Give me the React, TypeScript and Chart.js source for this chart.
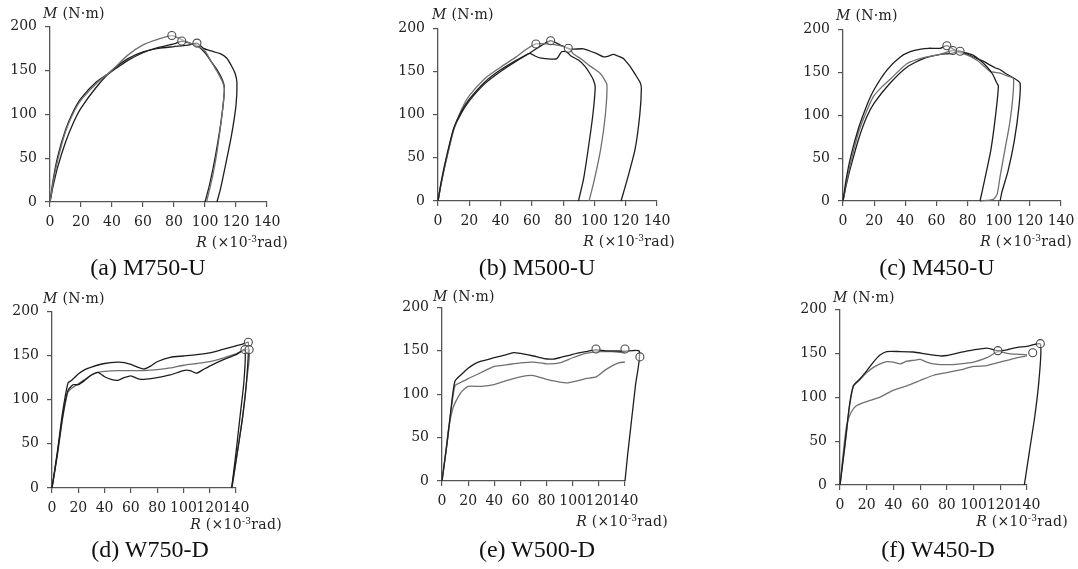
import React, { useEffect, useRef } from 'react';
import { Chart, registerables } from 'chart.js';
Chart.register(...registerables);

type P = [number, number];

const X_TICKS = [0, 20, 40, 60, 80, 100, 120, 140];
const Y_TICKS = [0, 50, 100, 150, 200];

// (a) M750-U
const M750U_1: P[] = [[0,0],[2,22],[5,48],[10,80],[15,101],[20,116],[30,135],[40,150],[50,167],[60,179],[70,185.5],[78.6,189.6],[85,185],[90,181],[95,178],[100,172],[104,160],[108,148],[111,138],[112.5,128],[111,100],[108,60],[105,30],[101,0]];
const M750U_2: P[] = [[0,0],[2,25],[5,52],[10,82],[15,103],[20,118],[30,137],[40,149],[50,161],[60,170],[70,176],[80,180],[85,183.3],[90,181],[95,178],[100,170],[104,160],[108,150],[111,140],[112.5,130],[111,100],[107,55],[103,20],[100,0]];
const M750U_3: P[] = [[0,0],[2,18],[5,40],[10,68],[15,90],[20,107],[30,131],[40,150],[50,163],[60,171],[70,175],[80,177],[90,179],[94.8,181],[99,175],[104,172],[109.8,169],[114,164],[117.4,154],[119.5,146],[120.6,136],[120,110],[117,75],[113,40],[110,15],[107.7,0]];
const M750U_PEAKS: P[] = [[78.6,189.6],[85,183.3],[94.8,181]];

// (b) M500-U
const M500U_1: P[] = [[0,0],[2,22],[5,48],[10,84],[15,104],[20,118],[30,138],[40,152],[50,163],[55,168],[58.8,171],[62,168],[66,165.5],[72,164.5],[76,165],[79,173],[82,173],[85,168],[90,163],[94,156],[97,148],[99.4,140],[100.5,132],[99,100],[96,60],[93,25],[89.8,0]];
const M500U_2: P[] = [[0,0],[2,20],[5,45],[10,82],[15,106],[20,122],[30,142],[40,155],[50,167],[55,174],[62.6,182],[70,182],[78,180],[84,176],[86.5,170.7],[92,164],[96,158],[100,153],[103.6,148],[106,142],[108,135],[107,100],[104,60],[100,25],[96.6,0]];
const M500U_3: P[] = [[0,0],[2,20],[5,46],[10,83],[15,102],[20,116],[30,136],[40,150],[50,162],[60,173],[66,180],[72,185.7],[78,181],[84.5,176],[93,176.3],[101.5,170.7],[105.8,167],[109,168],[112,169.9],[115,168],[118.6,165],[121,160],[122.9,155.7],[126,147],[129.3,137],[130,130],[129,100],[126,60],[121,25],[117,0]];
const M500U_PEAKS: P[] = [[62.6,182],[72,185.7],[83.3,177]];

// (c) M450-U
const M450U_1: P[] = [[0,0],[2,25],[5,52],[10,85],[15.4,112],[20,130],[28.2,152.6],[36.8,167.8],[43.2,174],[50,177],[55,178],[62.4,178],[66.7,181],[72,176],[78,173],[83.8,169.7],[88,164],[92.4,156.5],[96,148],[98.8,137.5],[99.8,134],[98,100],[95,60],[91,25],[88,0]];
const M450U_2: P[] = [[0,0],[2,20],[5,45],[10,80],[15,104],[19.6,122],[25,133],[30.3,142],[41,160],[51.7,167],[62.4,171],[70.5,175.4],[75,173],[80,170],[86,164],[90,158],[94.5,151],[100.9,148.9],[105,146],[109.4,143],[109,120],[107,90],[104,60],[101,30],[99,8],[96.6,2],[88,0]];
const M450U_3: P[] = [[0,0],[2,18],[5,40],[10,72],[15,97],[20,114],[30.3,137.5],[41,156],[51.7,166],[62.4,171],[70,172],[75.2,174.6],[80,171],[86,166],[90,163],[94.5,158.3],[98,155],[101,153],[105,148],[109,144],[113.7,137.5],[113,110],[110,70],[106,35],[102,10],[100.9,0]];
const M450U_PEAKS: P[] = [[66.7,181],[70.5,175.4],[75.2,174.6]];

// (d) W750-D
const W750D_1: P[] = [[0,0],[4,40],[8,85],[12.2,119],[15,122],[20,129],[25,134],[30,137],[40,141],[50,142.5],[55,142],[60,140],[65,137],[70,134.7],[75,138],[80,143],[90,148],[100,149.5],[110,151],[120,153],[130,157],[140,161],[145,163],[149.4,165],[148,120],[145,80],[141,40],[136.7,0]];
const W750D_2: P[] = [[0,0],[4,38],[8,80],[12,110],[16,117],[20,117],[25,122],[30,128],[35,131],[40,126],[45,123],[50,122],[55,125],[60,127],[65,124],[70,123],[80,125],[90,128],[100,133],[105,133],[110,130],[115,134],[120,138],[130,145],[140,151],[146.8,156.7],[146,120],[143,80],[140,40],[136.7,0]];
const W750D_3: P[] = [[0,0],[4,36],[8,78],[12,108],[15,113],[20,118],[25,123],[30,128],[35,131],[40,132],[50,133],[60,133],[70,133],[80,134],[90,136],[100,139],[110,141],[120,143],[130,147],[140,152],[150,156.7],[148,120],[145,80],[141,40],[137,0]];
const W750D_PEAKS: P[] = [[149.4,165],[146.8,156.7],[150,156.7]];

// (e) W500-D
const W500D_1: P[] = [[0,0],[4,45],[7,85],[9.9,115],[15,123],[20,130],[25,135],[30,138],[40,142],[50,146],[55,148],[60,147],[70,144],[78,141],[85,140.5],[90,142],[100,146],[110,149],[117.8,151],[125,150],[130,150],[140,149.5],[151,149.5],[148,110],[145,70],[142,30],[140,0]];
const W500D_2: P[] = [[0,0],[4,45],[7,82],[10,110],[15,114],[20,118],[30,125],[40,132],[50,134],[60,136],[70,137],[80,135],[90,136],[100,142],[110,147],[120,149],[130,149],[140,147.5],[145,146],[151.4,143]];
const W500D_3: P[] = [[0,0],[3,35],[5,60],[8,82],[10,90],[15,103],[20,109],[30,109],[40,111],[50,116],[60,120],[70,121.5],[80,117],[90,114],[95,113],[105,116],[110,118],[118,120],[125,128],[135,136],[140,137],[145,138],[151,143]];
const W500D_PEAKS: P[] = [[117.8,152],[140,152],[151.4,143]];

// (f) W450-D
const W450D_1: P[] = [[0,0],[4,50],[7,90],[10,113],[15,121],[20,130],[25,140],[30,148],[35,152],[45,152],[55,151.5],[65,149],[75,147],[80,147.5],[90,151],[100,154],[110,156],[118,153],[125,154],[130,156],[140,158],[150,160.5],[149,120],[146,80],[142,40],[138,0]];
const W450D_2: P[] = [[0,0],[4,48],[7,88],[10,112],[15,120],[20,128],[25,134],[30,138],[35,140.5],[40,140],[45,138],[50,141],[55,142],[60,143],[65,140],[70,138],[80,137],[90,138],[100,140],[110,145],[118.2,152],[125,150],[130,149],[140,148.5],[144.3,150],[149,148]];
const W450D_3: P[] = [[0,0],[3,45],[5,68],[8,82],[12,90],[20,95],[30,100],[40,108],[50,113],[55,116],[60,119],[70,125],[80,128],[90,131],[100,135],[110,136],[120,140],[130,144],[140,147],[149,148]];
const W450D_PEAKS: P[] = [[118.2,153],[144.3,150.7],[150,161]];

const BLACK = '#1e1e1e';
const GRAY = '#707070';
const AXIS = '#555555';
const TICK_FONT = "'DejaVu Serif', serif";
const CAP_FONT = "'Liberation Serif', 'Times New Roman', serif";

interface PanelCfg {
  caption: string;
  series: P[][];
  colors: string[];
  peaks: P[];
  L: number; R: number; T: number; B: number;
  mX: number; mBase: number;
  rRight: number; rBase: number;
  capCenter: number; capBase: number;
}

const PANELS: PanelCfg[] = [
  { caption: '(a) M750-U', series: [M750U_1, M750U_2, M750U_3], colors: [GRAY, BLACK, BLACK], peaks: M750U_PEAKS,
    L: 50, R: 267, T: 22, B: 202, mX: 43, mBase: 18, rRight: 288, rBase: 247, capCenter: 148, capBase: 275 },
  { caption: '(b) M500-U', series: [M500U_1, M500U_2, M500U_3], colors: [BLACK, GRAY, BLACK], peaks: M500U_PEAKS,
    L: 438, R: 657, T: 24, B: 201, mX: 432, mBase: 19, rRight: 675, rBase: 246, capCenter: 537, capBase: 275 },
  { caption: '(c) M450-U', series: [M450U_1, M450U_2, M450U_3], colors: [BLACK, GRAY, BLACK], peaks: M450U_PEAKS,
    L: 843, R: 1061, T: 25, B: 201, mX: 836, mBase: 20, rRight: 1072, rBase: 246, capCenter: 937, capBase: 275 },
  { caption: '(d) W750-D', series: [W750D_1, W750D_2, W750D_3], colors: [BLACK, BLACK, GRAY], peaks: W750D_PEAKS,
    L: 52, R: 236, T: 307, B: 488, mX: 43, mBase: 303, rRight: 282, rBase: 529, capCenter: 150, capBase: 557 },
  { caption: '(e) W500-D', series: [W500D_1, W500D_2, W500D_3], colors: [BLACK, GRAY, GRAY], peaks: W500D_PEAKS,
    L: 442, R: 625, T: 303, B: 481, mX: 433, mBase: 301, rRight: 668, rBase: 526, capCenter: 537, capBase: 557 },
  { caption: '(f) W450-D', series: [W450D_1, W450D_2, W450D_3], colors: [BLACK, GRAY, GRAY], peaks: W450D_PEAKS,
    L: 840, R: 1027, T: 305, B: 485, mX: 833, mBase: 302, rRight: 1068, rBase: 526, capCenter: 938, capBase: 557 },
];

const PAD_L = 45;
const PAD_T = 12;
const PAD_R = 30;
const PAD_B = 34;

const peakPlugin = {
  id: 'peakMarkers',
  afterDatasetsDraw(chart: any, _args: any, opts: any) {
    const peaks: P[] = opts && opts.points ? opts.points : [];
    const { ctx, scales } = chart;
    ctx.save();
    ctx.lineWidth = 1.1;
    ctx.strokeStyle = '#4a4a4a';
    ctx.fillStyle = 'rgba(255,255,255,0.45)';
    for (const [x, y] of peaks) {
      const px = scales.x.getPixelForValue(x);
      const py = scales.y.getPixelForValue(y);
      ctx.beginPath();
      ctx.arc(px, py, 4, 0, Math.PI * 2);
      ctx.fill();
      ctx.stroke();
    }
    ctx.restore();
  },
};

function Panel({ cfg }: { cfg: PanelCfg }) {
  const ref = useRef<HTMLCanvasElement>(null);
  const w = cfg.R - cfg.L + PAD_L + PAD_R;
  const h = cfg.B - cfg.T + PAD_T + PAD_B;

  useEffect(() => {
    if (!ref.current) return;
    const datasets: any[] = cfg.series.map((s, i) => ({
      data: s.map(([x, y]) => ({ x, y })),
      showLine: true,
      borderColor: cfg.colors[i],
      borderWidth: 1.3,
      pointRadius: 0,
      tension: 0.2,
      clip: false,
      fill: false,
    }));
    const tickFont = { family: TICK_FONT, size: 14 };
    const chart = new Chart(ref.current, {
      type: 'scatter',
      data: { datasets },
      plugins: [peakPlugin as any],
      options: {
        animation: false,
        responsive: false,
        maintainAspectRatio: false,
        layout: { padding: { top: PAD_T, right: PAD_R, left: 0, bottom: 0 } },
        plugins: {
          legend: { display: false },
          tooltip: { enabled: false },
          title: { display: false },
          peakMarkers: { points: cfg.peaks },
        } as any,
        scales: {
          x: {
            type: 'linear',
            min: 0,
            max: 140,
            afterBuildTicks: (s: any) => { s.ticks = X_TICKS.map((v) => ({ value: v })); },
            afterFit: (s: any) => { s.height = PAD_B; },
            ticks: { autoSkip: false, maxRotation: 0, minRotation: 0, padding: 7, color: '#222', font: tickFont },
            grid: { display: true, drawOnChartArea: false, drawTicks: true, tickLength: 5, color: AXIS, lineWidth: 1.2 },
            border: { display: true, color: AXIS, width: 1.3 },
          },
          y: {
            type: 'linear',
            min: 0,
            max: 200,
            afterBuildTicks: (s: any) => { s.ticks = Y_TICKS.map((v) => ({ value: v })); },
            afterFit: (s: any) => { s.width = PAD_L; },
            ticks: { autoSkip: false, padding: 8, color: '#222', font: tickFont },
            grid: { display: true, drawOnChartArea: false, drawTicks: true, tickLength: 5, color: AXIS, lineWidth: 1.2 },
            border: { display: true, color: AXIS, width: 1.3 },
          },
        },
      },
    });
    return () => chart.destroy();
  }, [cfg]);

  return (
    <>
      <canvas ref={ref} width={w} height={h}
        style={{ position: 'absolute', left: cfg.L - PAD_L, top: cfg.T - PAD_T, width: w, height: h }} />
      <div style={{ position: 'absolute', left: cfg.mX, top: cfg.mBase - 12, fontFamily: TICK_FONT, fontSize: 14, lineHeight: '14px', whiteSpace: 'nowrap', color: '#222', letterSpacing: '0.3px' }}>
        <i>M</i> (N{'\u00B7'}m)
      </div>
      <div style={{ position: 'absolute', right: 1078 - cfg.rRight, top: cfg.rBase - 12, fontFamily: TICK_FONT, fontSize: 14, lineHeight: '14px', whiteSpace: 'nowrap', color: '#222', letterSpacing: '0.3px' }}>
        <i>R</i> ({'\u00D7'}10<span style={{ fontSize: 9, position: 'relative', top: -5 }}>-3</span>rad)
      </div>
      <div style={{ position: 'absolute', left: cfg.capCenter - 100, width: 200, textAlign: 'center', top: cfg.capBase - 20, fontFamily: CAP_FONT, fontSize: 24, lineHeight: '24px', whiteSpace: 'nowrap', color: '#111' }}>
        {cfg.caption}
      </div>
    </>
  );
}

export default function App() {
  return (
    <div style={{ position: 'absolute', left: 0, top: 0, width: 1078, height: 569, background: '#fff', overflow: 'hidden' }}>
      {PANELS.map((p) => <Panel key={p.caption} cfg={p} />)}
    </div>
  );
}
